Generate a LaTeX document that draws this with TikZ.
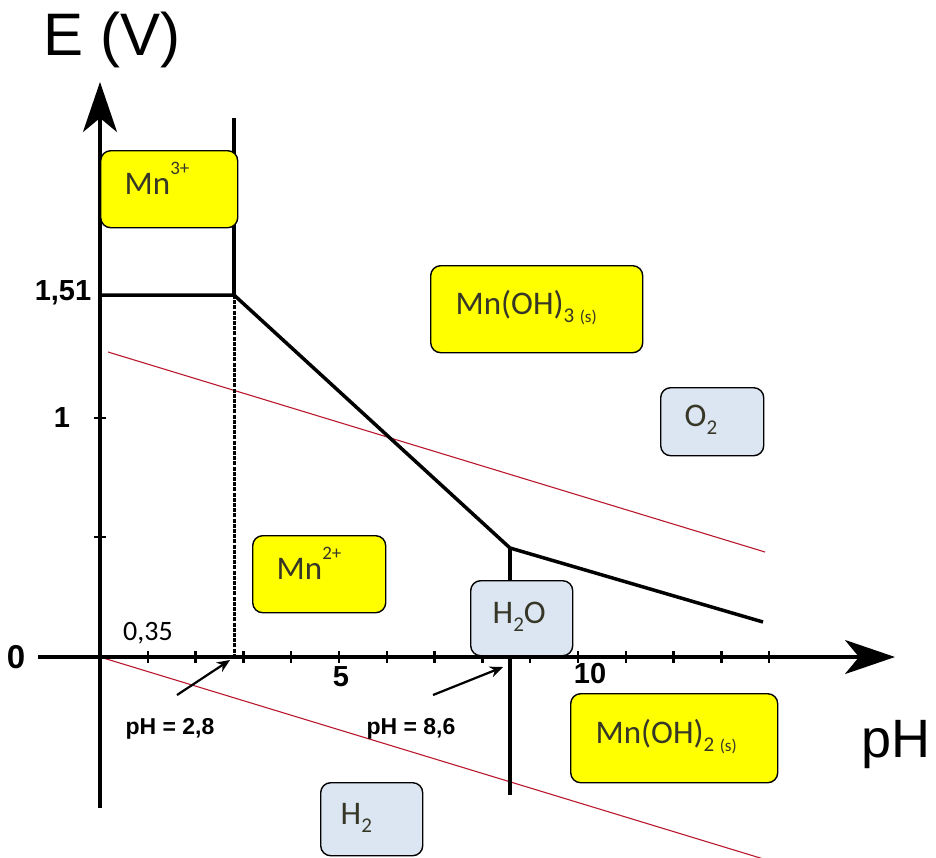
\documentclass[tikz,border=0pt]{standalone}
\usepackage{fontspec}
\setmainfont{Liberation Sans}
\newfontfamily\boxfont{Carlito}
\usetikzlibrary{arrows.meta}
\definecolor{boxyellow}{RGB}{255,255,0}
\definecolor{boxblue}{RGB}{220,230,242}
\definecolor{redline}{RGB}{185,25,45}
\definecolor{boxtext}{RGB}{55,55,40}
\newcommand\supr[1]{\raisebox{0.6em}{\fontsize{19}{19}\selectfont #1}}
\newcommand\subr[1]{\raisebox{-0.25em}{\fontsize{21}{21}\selectfont #1}}
\newcommand\subs[1]{\raisebox{-0.25em}{\fontsize{17}{17}\selectfont #1}}
\tikzset{
  axisline/.style={line width=3.5pt, -{Stealth[length=50pt,width=34pt,inset=14pt]}},
  tickmark/.style={line width=2.5pt},
  bound/.style={line width=3.5pt, line join=round},
  dotline/.style={line width=3pt, dash pattern=on 4pt off 1.2pt},
  redl/.style={draw=redline, line width=1.1pt},
  ptr/.style={line width=2.2pt, -{Stealth[length=13pt,width=11pt]}},
  numlabel/.style={font=\bfseries\fontsize{29}{31}\selectfont, inner sep=0pt},
  phlabel/.style={font=\bfseries\fontsize{23}{25}\selectfont, inner sep=0pt},
  species/.style={draw=black, line width=1.4pt, rounded corners=10pt, align=left,
    inner xsep=24pt, inner ysep=0pt, anchor=north west, text height=24pt, text depth=14pt,
    font=\boxfont\fontsize{33}{36}\selectfont, text=boxtext},
  mnbox/.style={species, fill=boxyellow},
  waterbox/.style={species, fill=boxblue}
}
\begin{document}
\begin{tikzpicture}[x=1pt,y=-1pt]
\useasboundingbox (0,0) rectangle (936,857);
% key points
\coordinate (O) at (100,657);
\coordinate (ytop) at (100,82);
\coordinate (ybot) at (100,808);
\coordinate (xleft) at (38,657);
\coordinate (xright) at (895,657);
\coordinate (a151) at (100,295);
\coordinate (b151) at (234,295);
\coordinate (v1top) at (234,118);
\coordinate (v1bot) at (234,657);
\coordinate (c86) at (510,548);
\coordinate (d14) at (763,622);
\coordinate (v2bot) at (510,795);
\coordinate (r1a) at (108,352);
\coordinate (r1b) at (765,552);
\coordinate (r2b) at (780,864);
\coordinate (p28tip) at (230,660);
\coordinate (p28tail) at (177,695);
\coordinate (p86tip) at (503,667);
\coordinate (p86tail) at (433,695);
% water lines
\draw[redl] (r1a) -- (r1b);
\draw[redl] (O) -- (r2b);
% boundaries
\draw[bound] (a151) -- (b151) -- (c86) -- (d14);
\draw[bound] (v1top) -- (b151);
\draw[dotline] (b151) -- (v1bot);
\draw[bound] (c86) -- (v2bot);
% axes
\draw[axisline] (ybot) -- (ytop);
\draw[axisline] (xleft) -- (xright);
\foreach \k in {1,...,14} \draw[tickmark] ({100+47.8*\k},651) -- ++(0,12);
\draw[tickmark] (94,418) -- (106,418);
\draw[tickmark] (94,537) -- (106,537);
% axis labels
\node[font=\fontsize{60}{64}\selectfont, inner sep=0pt] (ev) at (112,40) {E (V)};
\node[font=\fontsize{54}{58}\selectfont, inner sep=0pt] (ph) at (896,745) {pH};
\node[font=\bfseries\fontsize{33}{35}\selectfont, inner sep=0pt] (l0) at (16,657) {0};
\node[numlabel] (l151) at (63,293) {1,51};
\node[numlabel] (l1) at (62,418) {1};
\node[numlabel] (l5) at (341,677) {5};
\node[numlabel] (l10) at (590,674) {10};
\node[font=\boxfont\fontsize{28}{30}\selectfont, inner sep=0pt] (l035) at (148,633) {0,35};
% pH markers
\node[phlabel] (p28) at (170,729) {pH = 2,8};
\node[phlabel] (p86) at (411,729) {pH = 8,6};
\draw[ptr] (p28tail) -- (p28tip);
\draw[ptr] (p86tail) -- (p86tip);
% species boxes
\node[mnbox, text width=89pt, minimum height=77pt] (mn3) at (100,150) {Mn\supr{3+}};
\node[mnbox, text width=162pt, minimum height=87pt, inner xsep=25pt] (mnoh3) at (430,265) {Mn(OH)\subr{3}\,\subs{(s)}};
\node[waterbox, text width=55pt, minimum height=68pt] (o2) at (660,387) {O\subr{2}};
\node[mnbox, text width=85pt, minimum height=77pt] (mn2) at (252,535) {Mn\supr{2+}};
\node[waterbox, text width=58pt, minimum height=75pt, inner xsep=22pt] (h2o) at (470,580) {H\subr{2}O};
\node[mnbox, text width=157pt, minimum height=89pt, inner xsep=25pt] (mnoh2) at (570,693) {Mn(OH)\subr{2}\,\subs{(s)}};
\node[waterbox, text width=62pt, minimum height=73pt, inner xsep=20pt] (h2) at (320,782) {H\subr{2}};
\end{tikzpicture}
\end{document}
